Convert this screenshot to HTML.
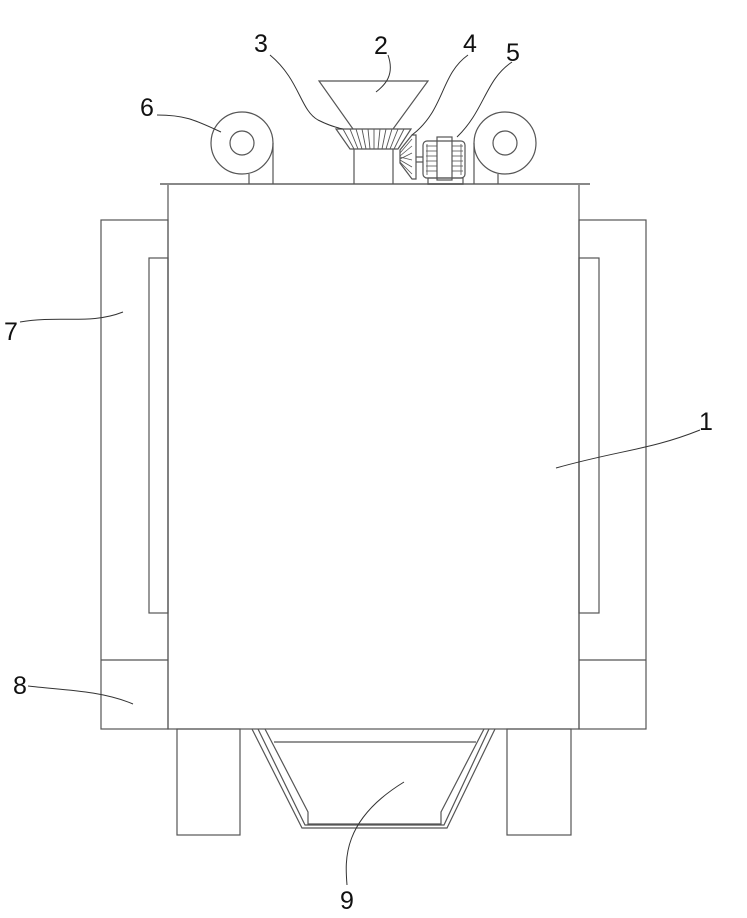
<!DOCTYPE html>
<html><head><style>html,body{margin:0;padding:0;background:#fff}svg{display:block}</style></head>
<body>
<svg width="747" height="918" viewBox="0 0 747 918" xmlns="http://www.w3.org/2000/svg">
<g fill="none" stroke="#555" stroke-width="1.2">
<!-- main body -->
<rect x="168" y="184" width="411" height="545"/>
<line x1="160" y1="184" x2="590" y2="184" stroke="#888" stroke-width="2"/>
<!-- left panel -->
<rect x="101" y="220" width="67" height="509"/>
<rect x="149" y="258" width="19" height="355"/>
<line x1="101" y1="660" x2="168" y2="660"/>
<!-- right panel -->
<rect x="579" y="220" width="67" height="509"/>
<rect x="579" y="258" width="20" height="355"/>
<line x1="579" y1="660" x2="646" y2="660"/>
<!-- legs -->
<rect x="177" y="729" width="63" height="106"/>
<rect x="507" y="729" width="64" height="106"/>
<!-- hopper -->
<polyline points="252,729 302,828 447,828 495,729"/>
<polyline points="258,729 305,825 444,825 489,729"/>
<polyline points="265,729 308,812 308,824 441,824 441,812 484,729"/>
<line x1="274" y1="742" x2="476" y2="742"/>
<!-- rollers -->
<circle cx="242" cy="143" r="31"/><circle cx="242" cy="143" r="12"/>
<line x1="273" y1="143" x2="273" y2="184"/><line x1="249" y1="174" x2="249" y2="184"/>
<circle cx="505" cy="143" r="31"/><circle cx="505" cy="143" r="12"/>
<line x1="474" y1="143" x2="474" y2="184"/><line x1="498" y1="174" x2="498" y2="184"/>
<!-- funnel -->
<polyline points="353,129 319,81 428,81 393,129"/>
<!-- bevel gear -->
<polygon points="336,129 411,129 398,149 350,149"/>
<g stroke-width="0.9">
<line x1="343" y1="129" x2="354" y2="149"/><line x1="350" y1="129" x2="358" y2="149"/>
<line x1="356" y1="129" x2="362" y2="149"/><line x1="362" y1="129" x2="366" y2="149"/>
<line x1="368" y1="129" x2="370" y2="149"/><line x1="374" y1="129" x2="374" y2="149"/>
<line x1="380" y1="129" x2="378" y2="149"/><line x1="386" y1="129" x2="382" y2="149"/>
<line x1="392" y1="129" x2="386" y2="149"/><line x1="398" y1="129" x2="390" y2="149"/>
<line x1="404" y1="129" x2="394" y2="149"/>
</g>
<!-- pipe -->
<line x1="354" y1="149" x2="354" y2="184"/><line x1="393" y1="149" x2="393" y2="184"/>
<!-- small gear 4 -->
<polygon points="412,135 416,135 416,179 412,179 400,163 400,150"/>
<g stroke-width="0.8">
<line x1="400" y1="153" x2="412" y2="139"/><line x1="400" y1="156" x2="412" y2="146"/>
<line x1="400" y1="159" x2="412" y2="153"/><line x1="400" y1="157" x2="412" y2="160"/>
<line x1="400" y1="160" x2="412" y2="167"/><line x1="400" y1="162" x2="412" y2="174"/>
</g>
<line x1="416" y1="157" x2="423" y2="157"/><line x1="416" y1="162" x2="423" y2="162"/>
<!-- motor -->
<rect x="423" y="141" width="42" height="37" rx="4"/>
<rect x="437" y="137" width="15" height="43"/>
<rect x="428" y="178" width="35" height="6"/>
<g stroke-width="0.8">
<line x1="426" y1="146" x2="437" y2="146"/><line x1="426" y1="151" x2="437" y2="151"/>
<line x1="426" y1="156" x2="437" y2="156"/><line x1="426" y1="161" x2="437" y2="161"/>
<line x1="426" y1="166" x2="437" y2="166"/><line x1="426" y1="171" x2="437" y2="171"/>
<line x1="452" y1="146" x2="463" y2="146"/><line x1="452" y1="151" x2="463" y2="151"/>
<line x1="452" y1="156" x2="463" y2="156"/><line x1="452" y1="161" x2="463" y2="161"/>
<line x1="452" y1="166" x2="463" y2="166"/><line x1="452" y1="171" x2="463" y2="171"/>
<line x1="427" y1="144" x2="427" y2="175"/><line x1="461" y1="144" x2="461" y2="175"/>
</g>
</g>
<!-- leader lines -->
<g fill="none" stroke="#333" stroke-width="1">
<path d="M388,55 C395,75 385,85 376,92"/>
<path d="M270,55 C300,80 300,110 318,120 C330,126 338,128 343,129"/>
<path d="M468,55 C440,75 445,110 412,135"/>
<path d="M512,62 C485,80 485,110 457,137"/>
<path d="M157,115 C185,115 195,120 221,132"/>
<path d="M20,322 C60,315 90,325 123,312"/>
<path d="M700,430 C650,450 620,450 556,468"/>
<path d="M28,686 C60,690 100,690 133,704"/>
<path d="M347,885 C345,860 342,820 404,782"/>
</g>
<g font-family="Liberation Sans, sans-serif" font-size="25" fill="#111">
<text x="374" y="54">2</text>
<text x="254" y="52">3</text>
<text x="463" y="52">4</text>
<text x="506" y="61">5</text>
<text x="140" y="116">6</text>
<text x="4" y="340">7</text>
<text x="699" y="430">1</text>
<text x="13" y="694">8</text>
<text x="340" y="909">9</text>
</g>
</svg>
</body></html>
